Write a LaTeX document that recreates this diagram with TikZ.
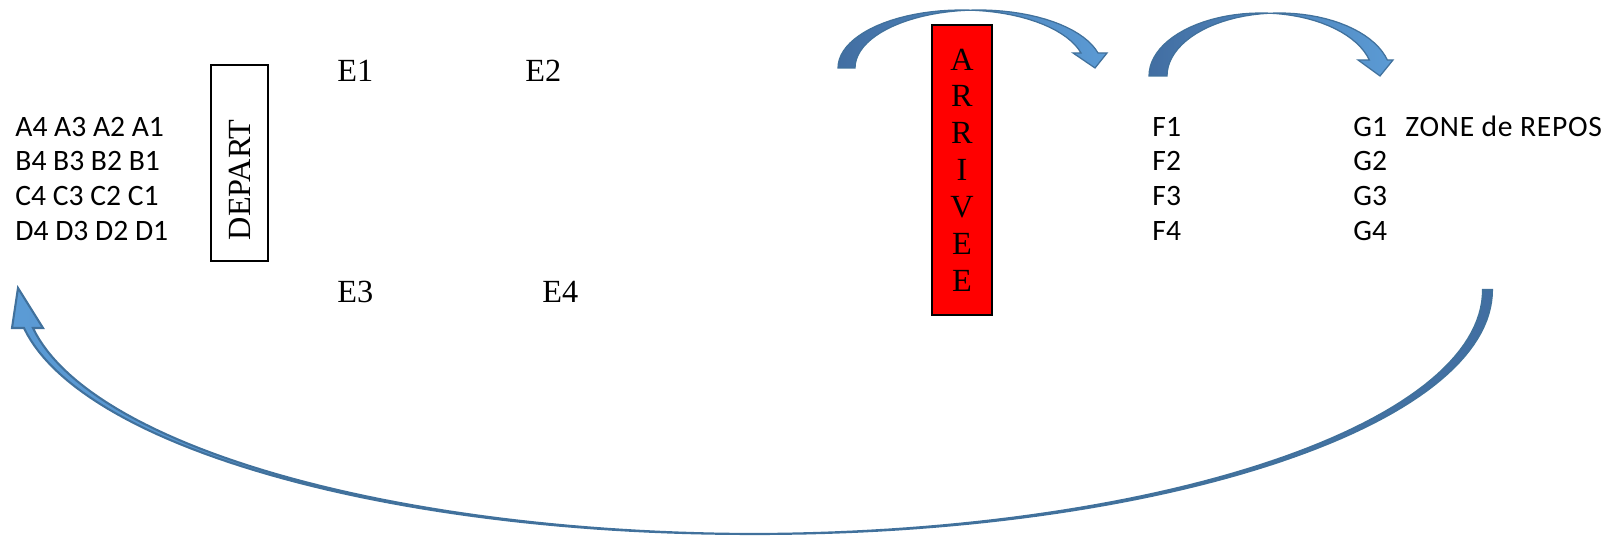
\documentclass[tikz,border=0pt]{standalone}
\usepackage{fontspec}
\setmainfont{Liberation Serif}
\newfontfamily\calibri{Carlito}
\newfontfamily\calibriwide{Carlito}[LetterSpace=2.5]
\definecolor{arrowdark}{RGB}{66,110,162}
\definecolor{arrowlight}{RGB}{91,155,213}
\definecolor{arrowline}{RGB}{65,113,156}
\begin{document}
\begin{tikzpicture}[x=0.48pt,y=-0.48pt,
  serif/.style={font=\fontsize{15.5}{17.7}\selectfont, inner sep=0pt},
  sans/.style={font=\calibri\fontsize{14.2}{16.7}\selectfont, inner sep=0pt, anchor=base west},
  block/.style={draw=arrowline, line width=0.6pt, line join=miter},
]
\useasboundingbox (0,0) rectangle (1607,537);

% runners waiting at the start
\foreach \L/\y in {A/136.5,B/171,C/206,D/241}
  \node[sans] (row\L) at (15,\y) {\L4 \L3 \L2 \L1};

% start box
\node[draw, line width=0.75pt, rotate=90, serif, minimum height=27.4pt,
      inner xsep=10pt, text width=74pt, align=left] (depart) at (239.5,163) {DEPART};

% intermediate positions
\node[serif, anchor=base west] (e1) at (337,82)  {E1};
\node[serif, anchor=base west] (e2) at (525,82)  {E2};
\node[serif, anchor=base west] (e3) at (337,303) {E3};
\node[serif, anchor=base west] (e4) at (542,303) {E4};

% finish box
\node[draw, fill=red, line width=0.8pt, serif, minimum width=28.8pt,
      minimum height=139.2pt, align=center] (arrivee) at (962,170)
      {A\\R\\R\\I\\V\\E\\E};

% columns after the finish
\foreach \i/\y in {1/136.5,2/171,3/206,4/241} {
  \node[sans] (f\i) at (1152,\y) {F\i};
  \node[sans] (g\i) at (1353,\y) {G\i};
}
\node[sans, font=\calibriwide\fontsize{14.2}{16.7}\selectfont] (zone) at (1405,136.5) {ZONE de REPOS};

% curved block arrow over the finish box
\draw[block, left color=arrowdark, right color=arrowlight]
  plot[domain=180:15, samples=40, variable=\t] ({961.6+123.6*cos(\t)},{68-58*sin(\t)})
  -- (1073,53) -- (1095,68) -- (1107,53)
  -- plot[domain=15:180, samples=40, variable=\t] ({978.6+123.6*cos(\t)},{68-58*sin(\t)})
  -- cycle;

% curved block arrow from F to G
\draw[block, left color=arrowdark, right color=arrowlight]
  plot[domain=180:14.71, samples=40, variable=\t] ({1261+112*cos(\t)},{76-63*sin(\t)})
  -- (1358,60) -- (1380,76) -- (1393,60)
  -- plot[domain=14.71:180, samples=40, variable=\t] ({1279+112*cos(\t)},{76-63*sin(\t)})
  -- cycle;

% long return arrow back to the start
\draw[block, line width=1pt, left color=arrowlight, right color=arrowdark]
  plot[domain=0:171.04, samples=120, variable=\t] ({758+734*cos(\t)},{290+244*sin(\t)})
  -- (43,328) -- (18,288) -- (12,328)
  -- plot[domain=171.04:0, samples=120, variable=\t] ({749+734*cos(\t)},{290+244*sin(\t)})
  -- cycle;
\end{tikzpicture}
\end{document}
